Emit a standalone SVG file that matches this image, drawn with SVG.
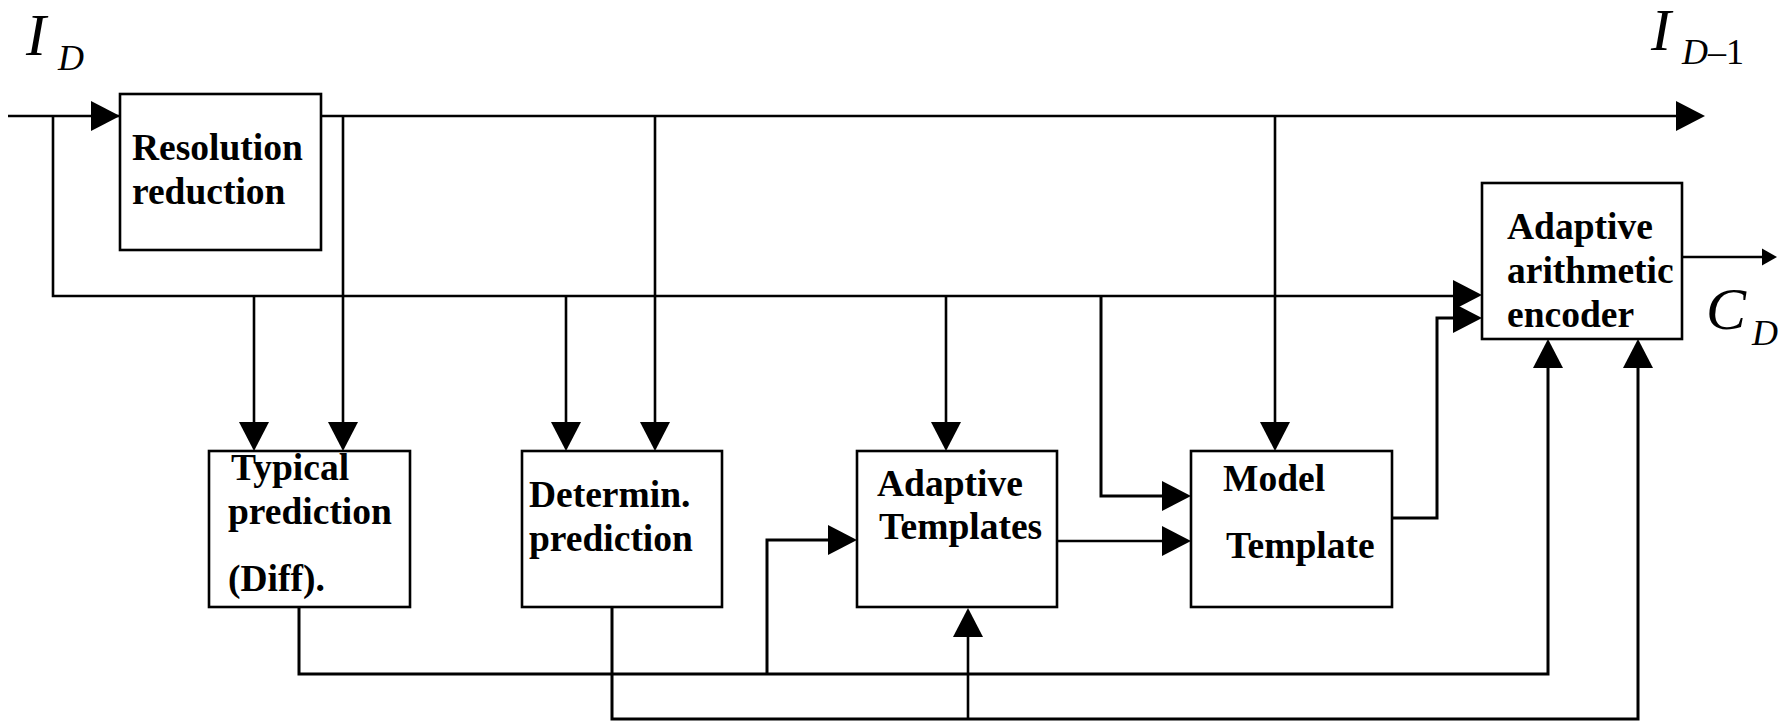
<svg xmlns="http://www.w3.org/2000/svg" width="1790" height="721" viewBox="0 0 1790 721">
<style>
.c{fill:none;stroke:#000;stroke-width:2.6}
.t{stroke-width:3}
.b{fill:#fff;stroke:#000;stroke-width:2.6}
.l{font-family:"Liberation Serif","Times New Roman",serif;font-weight:bold;font-size:37.5px;fill:#000}
.m{font-family:"Liberation Serif","Times New Roman",serif;font-style:italic;fill:#000}
</style>
<defs>
<path id="ah" d="M0 0 L-29 -15 L-29 15 Z" fill="#000"/>
<path id="sah" d="M0 0 L-15 -8.5 L-15 8.5 Z" fill="#000"/>
</defs>
<rect width="1790" height="721" fill="#fff"/>
<g id="connectors">
<path class="c" d="M8 116 H1680"/>
<path class="c" d="M53 116 V296 H1455"/>
<path class="c" d="M343 116 V425"/>
<path class="c" d="M655 116 V425"/>
<path class="c" d="M1275 116 V425"/>
<path class="c" d="M254 296 V425"/>
<path class="c" d="M566 296 V425"/>
<path class="c" d="M946 296 V425"/>
<path class="c t" d="M1101 296 V496 H1165"/>
<path class="c" d="M1057 541 H1165"/>
<path class="c t" d="M1392 518 H1437 V318 H1455"/>
<path class="c t" d="M299 608 V674 H1548 V368"/>
<path class="c t" d="M767 674 V540 H830"/>
<path class="c t" d="M612 608 V719 H1638 V368"/>
<path class="c" d="M968 719 V635"/>
<path class="c" d="M1682 257 H1765"/>
<use href="#ah" transform="translate(120 116)"/>
<use href="#ah" transform="translate(1705 116)"/>
<use href="#ah" transform="translate(254 451) rotate(90)"/>
<use href="#ah" transform="translate(343 451) rotate(90)"/>
<use href="#ah" transform="translate(566 451) rotate(90)"/>
<use href="#ah" transform="translate(655 451) rotate(90)"/>
<use href="#ah" transform="translate(946 451) rotate(90)"/>
<use href="#ah" transform="translate(1275 451) rotate(90)"/>
<use href="#ah" transform="translate(1191 496)"/>
<use href="#ah" transform="translate(1191 541)"/>
<use href="#ah" transform="translate(857 540)"/>
<use href="#ah" transform="translate(968 608) rotate(-90)"/>
<use href="#ah" transform="translate(1482 295)"/>
<use href="#ah" transform="translate(1482 318)"/>
<use href="#ah" transform="translate(1548 339) rotate(-90)"/>
<use href="#ah" transform="translate(1638 339) rotate(-90)"/>
<use href="#sah" transform="translate(1777 257)"/>
</g>
<g id="resolution">
<rect class="b" x="120" y="94" width="201" height="156"/>
<text class="l" x="132" y="160">Resolution</text>
<text class="l" x="132" y="204">reduction</text>
</g>
<g id="typical">
<rect class="b" x="209" y="451" width="201" height="156"/>
<text class="l" x="231" y="480">Typical</text>
<text class="l" x="228" y="524">prediction</text>
<text class="l" x="228" y="591">(Diff).</text>
</g>
<g id="determin">
<rect class="b" x="522" y="451" width="200" height="156"/>
<text class="l" x="529" y="507">Determin.</text>
<text class="l" x="529" y="551">prediction</text>
</g>
<g id="adaptive-templates">
<rect class="b" x="857" y="451" width="200" height="156"/>
<text class="l" x="877" y="496">Adaptive</text>
<text class="l" x="879" y="539">Templates</text>
</g>
<g id="model-template">
<rect class="b" x="1191" y="451" width="201" height="156"/>
<text class="l" x="1223" y="491">Model</text>
<text class="l" x="1226" y="558">Template</text>
</g>
<g id="encoder">
<rect class="b" x="1482" y="183" width="200" height="156"/>
<text class="l" x="1507" y="239">Adaptive</text>
<text class="l" x="1507" y="283">arithmetic</text>
<text class="l" x="1507" y="327">encoder</text>
</g>
<g id="labels">
<text class="m" x="26" y="55" font-size="60">I<tspan x="58" y="70" font-size="36">D</tspan></text>
<text class="m" x="1651" y="50" font-size="60">I<tspan x="1682" y="64" font-size="36">D</tspan><tspan font-size="36" font-style="normal">–1</tspan></text>
<text class="m" x="1706" y="329" font-size="60">C<tspan x="1752" y="345" font-size="36">D</tspan></text>
</g>
</svg>
